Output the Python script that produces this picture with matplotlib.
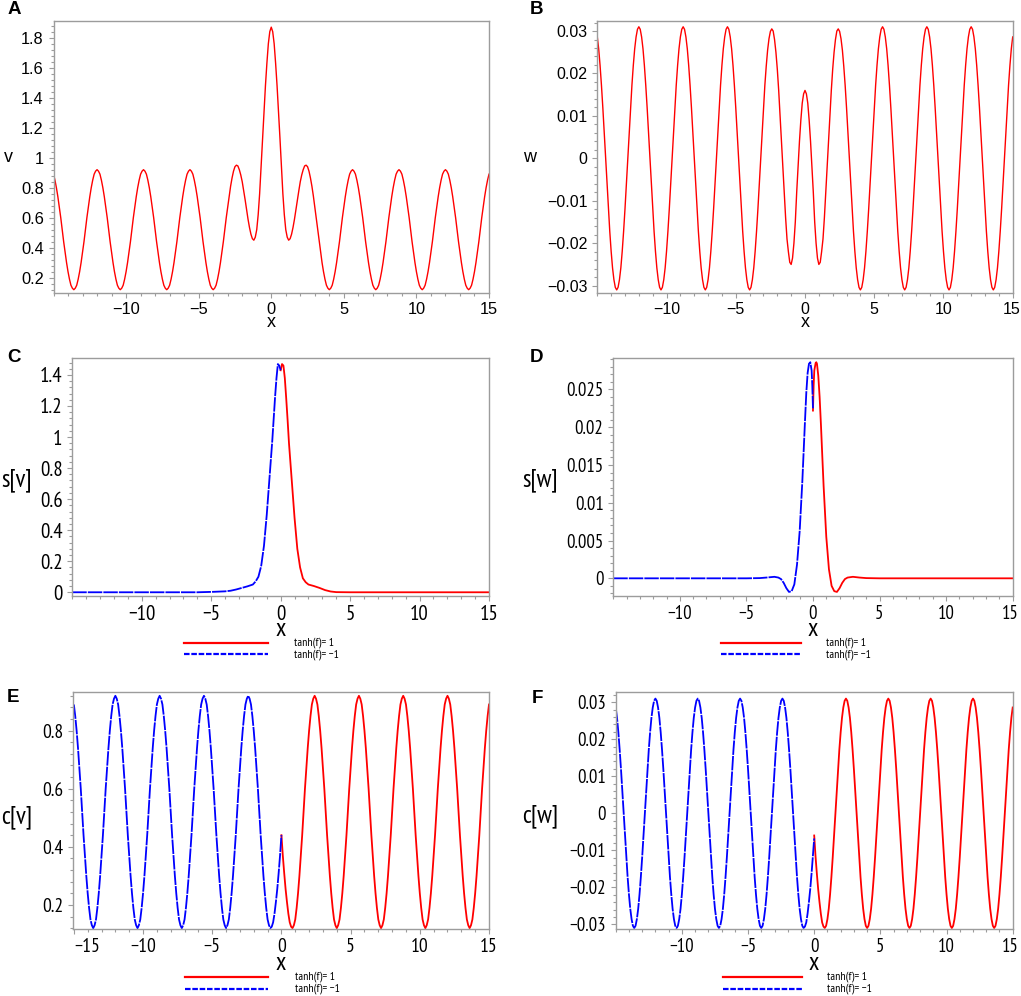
import numpy as np
import matplotlib
matplotlib.use("Agg")
import matplotlib.pyplot as plt
from matplotlib.ticker import MultipleLocator, FixedLocator, FuncFormatter
from matplotlib.lines import Line2D
from matplotlib.transforms import ScaledTranslation
from matplotlib import font_manager as fm

# ---------------- data ----------------
# sample positions (step 0.1) for the oscillating panels A, B, E, F
x_grid = np.round(np.linspace(-15.0, 15.0, 301), 1)

# A: v(x), x = -15.0 ... 15.0
v_A = [0.89, 0.85, 0.80, 0.74, 0.67, 0.60, 0.52, 0.44, 0.37, 0.30, 0.24, 0.19, 0.15, 0.13, 0.12,
       0.13, 0.15, 0.19, 0.24, 0.30, 0.37, 0.44, 0.52, 0.60, 0.67, 0.74, 0.80, 0.85, 0.89, 0.91, 0.92,
       0.91, 0.89, 0.85, 0.80, 0.74, 0.67, 0.60, 0.52, 0.44, 0.37, 0.30, 0.24, 0.19, 0.15, 0.13, 0.12,
       0.13, 0.15, 0.19, 0.24, 0.30, 0.37, 0.44, 0.52, 0.60, 0.67, 0.74, 0.80, 0.85, 0.89, 0.91, 0.92,
       0.91, 0.89, 0.85, 0.80, 0.74, 0.67, 0.60, 0.52, 0.44, 0.37, 0.30, 0.24, 0.19, 0.15, 0.13, 0.12,
       0.13, 0.15, 0.19, 0.24, 0.30, 0.37, 0.44, 0.52, 0.60, 0.67, 0.74, 0.80, 0.85, 0.89, 0.91, 0.92,
       0.91, 0.89, 0.85, 0.80, 0.74, 0.67, 0.60, 0.52, 0.44, 0.37, 0.30, 0.24, 0.19, 0.15, 0.13, 0.12,
       0.13, 0.15, 0.19, 0.24, 0.30, 0.37, 0.44, 0.52, 0.60, 0.67, 0.745, 0.81, 0.865, 0.91, 0.94, 0.95,
       0.945, 0.92, 0.885, 0.84, 0.78, 0.72, 0.655, 0.59, 0.535, 0.49, 0.46, 0.45,
       0.47, 0.52, 0.62, 0.76, 0.94, 1.13, 1.31, 1.48, 1.63, 1.76, 1.84, 1.87,
       1.84, 1.76, 1.63, 1.48, 1.31, 1.13, 0.94, 0.76, 0.62, 0.52, 0.47, 0.45,
       0.46, 0.49, 0.535, 0.59, 0.655, 0.72, 0.78, 0.84, 0.885, 0.92, 0.945, 0.95,
       0.94, 0.91, 0.865, 0.81, 0.745, 0.67, 0.60, 0.52, 0.44, 0.37, 0.30, 0.24, 0.19, 0.15, 0.13, 0.12,
       0.13, 0.15, 0.19, 0.24, 0.30, 0.37, 0.44, 0.52, 0.60, 0.67, 0.74, 0.80, 0.85, 0.89, 0.91, 0.92,
       0.91, 0.89, 0.85, 0.80, 0.74, 0.67, 0.60, 0.52, 0.44, 0.37, 0.30, 0.24, 0.19, 0.15, 0.13, 0.12,
       0.13, 0.15, 0.19, 0.24, 0.30, 0.37, 0.44, 0.52, 0.60, 0.67, 0.74, 0.80, 0.85, 0.89, 0.91, 0.92,
       0.91, 0.89, 0.85, 0.80, 0.74, 0.67, 0.60, 0.52, 0.44, 0.37, 0.30, 0.24, 0.19, 0.15, 0.13, 0.12,
       0.13, 0.15, 0.19, 0.24, 0.30, 0.37, 0.44, 0.52, 0.60, 0.67, 0.74, 0.80, 0.85, 0.89, 0.91, 0.92,
       0.91, 0.89, 0.85, 0.80, 0.74, 0.67, 0.60, 0.52, 0.44, 0.37, 0.30, 0.24, 0.19, 0.15, 0.13, 0.12,
       0.13, 0.15, 0.19, 0.24, 0.30, 0.37, 0.44, 0.52, 0.60, 0.67, 0.74, 0.80, 0.85, 0.89]

# B: w(x), x = -15.0 ... 15.0
w_B = [0.0286, 0.0258, 0.0219, 0.0172, 0.0119, 0.0060, 0.0, -0.0060, -0.0119, -0.0172, -0.0219, -0.0258, -0.0286, -0.0304, -0.031,
       -0.0304, -0.0286, -0.0258, -0.0219, -0.0172, -0.0119, -0.0060, 0.0, 0.0060, 0.0119, 0.0172, 0.0219, 0.0258, 0.0286, 0.0304, 0.031,
       0.0304, 0.0286, 0.0258, 0.0219, 0.0172, 0.0119, 0.0060, 0.0, -0.0060, -0.0119, -0.0172, -0.0219, -0.0258, -0.0286, -0.0304, -0.031,
       -0.0304, -0.0286, -0.0258, -0.0219, -0.0172, -0.0119, -0.0060, 0.0, 0.0060, 0.0119, 0.0172, 0.0219, 0.0258, 0.0286, 0.0304, 0.031,
       0.0304, 0.0286, 0.0258, 0.0219, 0.0172, 0.0119, 0.0060, 0.0, -0.0060, -0.0119, -0.0172, -0.0219, -0.0258, -0.0286, -0.0304, -0.031,
       -0.0304, -0.0286, -0.0258, -0.0219, -0.0172, -0.0119, -0.0060, 0.0, 0.0060, 0.0119, 0.0172, 0.0219, 0.0258, 0.0286, 0.0304, 0.031,
       0.0304, 0.0286, 0.0258, 0.0219, 0.0172, 0.0119, 0.0060, 0.0, -0.0060, -0.0119, -0.0172, -0.0219, -0.0258, -0.0286, -0.0304, -0.031,
       -0.0304, -0.0286, -0.0258, -0.0219, -0.0172, -0.0119, -0.0060, 0.0, 0.0060, 0.0119, 0.0172, 0.0217, 0.0255, 0.0282, 0.0299, 0.0305,
       0.0300, 0.028, 0.025, 0.021, 0.016, 0.010, 0.004, -0.002, -0.008, -0.014, -0.019, -0.022,
       -0.0245, -0.025, -0.0235, -0.020, -0.015, -0.008, -0.002, 0.004, 0.009, 0.013, 0.0152, 0.016,
       0.0152, 0.013, 0.009, 0.004, -0.002, -0.008, -0.015, -0.020, -0.0235, -0.025, -0.0245, -0.022,
       -0.019, -0.014, -0.008, -0.002, 0.004, 0.010, 0.016, 0.021, 0.025, 0.028, 0.0300, 0.0305,
       0.0299, 0.0282, 0.0255, 0.0217, 0.0172, 0.0119, 0.0060, 0.0, -0.0060, -0.0119, -0.0172, -0.0219, -0.0258, -0.0286, -0.0304, -0.031,
       -0.0304, -0.0286, -0.0258, -0.0219, -0.0172, -0.0119, -0.0060, 0.0, 0.0060, 0.0119, 0.0172, 0.0219, 0.0258, 0.0286, 0.0304, 0.031,
       0.0304, 0.0286, 0.0258, 0.0219, 0.0172, 0.0119, 0.0060, 0.0, -0.0060, -0.0119, -0.0172, -0.0219, -0.0258, -0.0286, -0.0304, -0.031,
       -0.0304, -0.0286, -0.0258, -0.0219, -0.0172, -0.0119, -0.0060, 0.0, 0.0060, 0.0119, 0.0172, 0.0219, 0.0258, 0.0286, 0.0304, 0.031,
       0.0304, 0.0286, 0.0258, 0.0219, 0.0172, 0.0119, 0.0060, 0.0, -0.0060, -0.0119, -0.0172, -0.0219, -0.0258, -0.0286, -0.0304, -0.031,
       -0.0304, -0.0286, -0.0258, -0.0219, -0.0172, -0.0119, -0.0060, 0.0, 0.0060, 0.0119, 0.0172, 0.0219, 0.0258, 0.0286, 0.0304, 0.031,
       0.0304, 0.0286, 0.0258, 0.0219, 0.0172, 0.0119, 0.0060, 0.0, -0.0060, -0.0119, -0.0172, -0.0219, -0.0258, -0.0286, -0.0304, -0.031,
       -0.0304, -0.0286, -0.0258, -0.0219, -0.0172, -0.0119, -0.0060, 0.0, 0.0060, 0.0119, 0.0172, 0.0219, 0.0258, 0.0286]

# C: s[v]
xC_blue = [-15.0, -10.0, -6.0, -4.8, -4.0, -3.6, -3.2, -2.8, -2.4, -2.0, -1.8, -1.6, -1.4, -1.2,
           -1.0, -0.8, -0.6, -0.5, -0.4, -0.3, -0.2, -0.1, 0.0]
sC_blue = [0.0, 0.0, 0.0, 0.003, 0.006, 0.010, 0.018, 0.028, 0.038, 0.05, 0.07, 0.10, 0.17, 0.30,
           0.50, 0.74, 0.98, 1.12, 1.26, 1.38, 1.47, 1.46, 1.43]
xC_red = [0.0, 0.1, 0.2, 0.3, 0.4, 0.5, 0.6, 0.8, 1.0, 1.2, 1.4, 1.6, 1.8, 2.0, 2.4, 2.8,
          3.2, 3.6, 4.0, 5.0, 10.0, 15.0]
sC_red = [1.43, 1.47, 1.46, 1.38, 1.25, 1.11, 0.96, 0.72, 0.48, 0.28, 0.16, 0.09, 0.065, 0.05, 0.04, 0.028,
          0.014, 0.005, 0.001, 0.0, 0.0, 0.0]

# D: s[w]
xD_blue = [-15.0, -8.0, -5.0, -4.0, -3.5, -2.9, -2.6, -2.4, -2.2, -2.0, -1.8, -1.6, -1.4, -1.2,
           -1.0, -0.8, -0.7, -0.6, -0.5, -0.4, -0.3, -0.2, -0.1, -0.05, 0.0]
sD_blue = [0.0, 0.0, 0.0, 0.00003, 0.0001, 0.0002, 0.0001, -0.0001, -0.0006, -0.0013, -0.0018, -0.0017,
           -0.0008, 0.0018, 0.0062, 0.0128, 0.0168, 0.0208, 0.0246, 0.0272, 0.0284, 0.0286, 0.0275, 0.0255, 0.0225]
xD_red = [0.0, 0.05, 0.1, 0.2, 0.25, 0.3, 0.4, 0.5, 0.6, 0.7, 0.8, 1.0, 1.2, 1.4, 1.6, 1.8, 2.0,
          2.2, 2.4, 2.6, 3.0, 3.5, 4.0, 5.0, 8.0, 15.0]
sD_red = [0.0222, 0.0255, 0.0275, 0.0285, 0.0286, 0.0284, 0.0268, 0.0240, 0.0203, 0.0162, 0.0122, 0.0055,
          0.0012, -0.0010, -0.0017, -0.0018, -0.0013, -0.0006, -0.0001, 0.0001, 0.0002, 0.0001, 0.00003,
          0.0, 0.0, 0.0]

# E: c[v]; blue on x = -15.0 ... 0.0, red on x = 0.0 ... 15.0
cE_blue = [0.89, 0.85, 0.80, 0.74, 0.67, 0.60, 0.52, 0.44, 0.37, 0.30, 0.24, 0.19, 0.15, 0.13, 0.12,
           0.13, 0.15, 0.19, 0.24, 0.30, 0.37, 0.44, 0.52, 0.60, 0.67, 0.74, 0.80, 0.85, 0.89, 0.91, 0.92,
           0.91, 0.89, 0.85, 0.80, 0.74, 0.67, 0.60, 0.52, 0.44, 0.37, 0.30, 0.24, 0.19, 0.15, 0.13, 0.12,
           0.13, 0.15, 0.19, 0.24, 0.30, 0.37, 0.44, 0.52, 0.60, 0.67, 0.74, 0.80, 0.85, 0.89, 0.91, 0.92,
           0.91, 0.89, 0.85, 0.80, 0.74, 0.67, 0.60, 0.52, 0.44, 0.37, 0.30, 0.24, 0.19, 0.15, 0.13, 0.12,
           0.13, 0.15, 0.19, 0.24, 0.30, 0.37, 0.44, 0.52, 0.60, 0.67, 0.74, 0.80, 0.85, 0.89, 0.91, 0.92,
           0.91, 0.89, 0.85, 0.80, 0.74, 0.67, 0.60, 0.52, 0.44, 0.37, 0.30, 0.24, 0.19, 0.15, 0.13, 0.12,
           0.13, 0.15, 0.19, 0.24, 0.30, 0.37, 0.44, 0.52, 0.60, 0.67, 0.74, 0.80, 0.85, 0.89, 0.91, 0.92,
           0.91, 0.89, 0.85, 0.80, 0.74, 0.67, 0.60, 0.52, 0.44, 0.37, 0.30, 0.24, 0.19, 0.15, 0.13, 0.12,
           0.125, 0.14, 0.17, 0.21, 0.255, 0.31, 0.37, 0.44]
cE_red = [0.44, 0.37, 0.31, 0.255, 0.21, 0.17, 0.14, 0.125, 0.12,
          0.13, 0.15, 0.19, 0.24, 0.30, 0.37, 0.44, 0.52, 0.60, 0.67, 0.74, 0.80, 0.85, 0.89, 0.91, 0.92,
          0.91, 0.89, 0.85, 0.80, 0.74, 0.67, 0.60, 0.52, 0.44, 0.37, 0.30, 0.24, 0.19, 0.15, 0.13, 0.12,
          0.13, 0.15, 0.19, 0.24, 0.30, 0.37, 0.44, 0.52, 0.60, 0.67, 0.74, 0.80, 0.85, 0.89, 0.91, 0.92,
          0.91, 0.89, 0.85, 0.80, 0.74, 0.67, 0.60, 0.52, 0.44, 0.37, 0.30, 0.24, 0.19, 0.15, 0.13, 0.12,
          0.13, 0.15, 0.19, 0.24, 0.30, 0.37, 0.44, 0.52, 0.60, 0.67, 0.74, 0.80, 0.85, 0.89, 0.91, 0.92,
          0.91, 0.89, 0.85, 0.80, 0.74, 0.67, 0.60, 0.52, 0.44, 0.37, 0.30, 0.24, 0.19, 0.15, 0.13, 0.12,
          0.13, 0.15, 0.19, 0.24, 0.30, 0.37, 0.44, 0.52, 0.60, 0.67, 0.74, 0.80, 0.85, 0.89, 0.91, 0.92,
          0.91, 0.89, 0.85, 0.80, 0.74, 0.67, 0.60, 0.52, 0.44, 0.37, 0.30, 0.24, 0.19, 0.15, 0.13, 0.12,
          0.13, 0.15, 0.19, 0.24, 0.30, 0.37, 0.44, 0.52, 0.60, 0.67, 0.74, 0.80, 0.85, 0.89]

# F: c[w]; blue on x = -15.0 ... 0.0, red on x = 0.0 ... 15.0
cF_blue = [0.0286, 0.0258, 0.0219, 0.0172, 0.0119, 0.0060, 0.0, -0.0060, -0.0119, -0.0172, -0.0219, -0.0258, -0.0286, -0.0304, -0.031,
           -0.0304, -0.0286, -0.0258, -0.0219, -0.0172, -0.0119, -0.0060, 0.0, 0.0060, 0.0119, 0.0172, 0.0219, 0.0258, 0.0286, 0.0304, 0.031,
           0.0304, 0.0286, 0.0258, 0.0219, 0.0172, 0.0119, 0.0060, 0.0, -0.0060, -0.0119, -0.0172, -0.0219, -0.0258, -0.0286, -0.0304, -0.031,
           -0.0304, -0.0286, -0.0258, -0.0219, -0.0172, -0.0119, -0.0060, 0.0, 0.0060, 0.0119, 0.0172, 0.0219, 0.0258, 0.0286, 0.0304, 0.031,
           0.0304, 0.0286, 0.0258, 0.0219, 0.0172, 0.0119, 0.0060, 0.0, -0.0060, -0.0119, -0.0172, -0.0219, -0.0258, -0.0286, -0.0304, -0.031,
           -0.0304, -0.0286, -0.0258, -0.0219, -0.0172, -0.0119, -0.0060, 0.0, 0.0060, 0.0119, 0.0172, 0.0219, 0.0258, 0.0286, 0.0304, 0.031,
           0.0304, 0.0286, 0.0258, 0.0219, 0.0172, 0.0119, 0.0060, 0.0, -0.0060, -0.0119, -0.0172, -0.0219, -0.0258, -0.0286, -0.0304, -0.031,
           -0.0304, -0.0286, -0.0258, -0.0219, -0.0172, -0.0119, -0.0060, 0.0, 0.0060, 0.0119, 0.0172, 0.0219, 0.0258, 0.0286, 0.0304, 0.031,
           0.0304, 0.0286, 0.0258, 0.0219, 0.0172, 0.0119, 0.0060, 0.0, -0.0060, -0.0119, -0.0172, -0.0219, -0.0258, -0.0286, -0.0304, -0.031,
           -0.0306, -0.0295, -0.0271, -0.0240, -0.0205, -0.0163, -0.0116, -0.0068]
cF_red = [-0.0060, -0.0116, -0.0163, -0.0205, -0.0240, -0.0271, -0.0295, -0.0306, -0.031,
          -0.0304, -0.0286, -0.0258, -0.0219, -0.0172, -0.0119, -0.0060, 0.0, 0.0060, 0.0119, 0.0172, 0.0219, 0.0258, 0.0286, 0.0304, 0.031,
          0.0304, 0.0286, 0.0258, 0.0219, 0.0172, 0.0119, 0.0060, 0.0, -0.0060, -0.0119, -0.0172, -0.0219, -0.0258, -0.0286, -0.0304, -0.031,
          -0.0304, -0.0286, -0.0258, -0.0219, -0.0172, -0.0119, -0.0060, 0.0, 0.0060, 0.0119, 0.0172, 0.0219, 0.0258, 0.0286, 0.0304, 0.031,
          0.0304, 0.0286, 0.0258, 0.0219, 0.0172, 0.0119, 0.0060, 0.0, -0.0060, -0.0119, -0.0172, -0.0219, -0.0258, -0.0286, -0.0304, -0.031,
          -0.0304, -0.0286, -0.0258, -0.0219, -0.0172, -0.0119, -0.0060, 0.0, 0.0060, 0.0119, 0.0172, 0.0219, 0.0258, 0.0286, 0.0304, 0.031,
          0.0304, 0.0286, 0.0258, 0.0219, 0.0172, 0.0119, 0.0060, 0.0, -0.0060, -0.0119, -0.0172, -0.0219, -0.0258, -0.0286, -0.0304, -0.031,
          -0.0304, -0.0286, -0.0258, -0.0219, -0.0172, -0.0119, -0.0060, 0.0, 0.0060, 0.0119, 0.0172, 0.0219, 0.0258, 0.0286, 0.0304, 0.031,
          0.0304, 0.0286, 0.0258, 0.0219, 0.0172, 0.0119, 0.0060, 0.0, -0.0060, -0.0119, -0.0172, -0.0219, -0.0258, -0.0286, -0.0304, -0.031,
          -0.0304, -0.0286, -0.0258, -0.0219, -0.0172, -0.0119, -0.0060, 0.0, 0.0060, 0.0119, 0.0172, 0.0219, 0.0258, 0.0286]

legend_labels = ["tanh(f)= 1", "tanh(f)= \u22121"]
panel_letters = ["A", "B", "C", "D", "E", "F"]

# ---------------- fonts ----------------
_avail = {f.name for f in fm.fontManager.ttflist}
_narrow = [n for n in ["Liberation Sans Narrow", "Arial Narrow", "Nimbus Sans Narrow",
                       "PT Sans Narrow", "Archivo Narrow", "Roboto Condensed"] if n in _avail]
REG = ["Liberation Sans", "DejaVu Sans"]
NAR = _narrow[:1] + ["Liberation Sans", "DejaVu Sans"]

# ---------------- figure ----------------
W, H = 1021, 996
fig = plt.figure(figsize=(W / 100, H / 100), dpi=100)

RED = "#ff0000"
BLUE = "#0000ff"
GRAY = "#9c9c9c"
DASH = (0, (8, 0.6))


def fmt(v, pos=None):
    s = f"{v:.4g}"
    if s in ("-0", "-0.0"):
        s = "0"
    return s.replace("-", "\u2212")


def px_axes(l, t, r, b):
    return fig.add_axes([l / W, 1 - b / H, (r - l) / W, (b - t) / H])


def ftext(x, y, s, **kw):
    fig.text(x / W, 1 - y / H, s, ha="center", va="center", **kw)


def style(ax, xlim, ylim, xt, yt, yminor, fs, fam, xpad=3.0, ypad=3.5):
    ax.set_xlim(*xlim)
    ax.set_ylim(*ylim)
    for sp in ax.spines.values():
        sp.set_color(GRAY)
        sp.set_linewidth(1.0)
    ax.xaxis.set_major_locator(FixedLocator(xt))
    ax.yaxis.set_major_locator(FixedLocator(yt))
    ax.xaxis.set_minor_locator(MultipleLocator(1))
    ax.yaxis.set_minor_locator(MultipleLocator(yminor))
    ax.xaxis.set_major_formatter(FuncFormatter(fmt))
    ax.yaxis.set_major_formatter(FuncFormatter(fmt))
    ax.tick_params(which="both", direction="out", color=GRAY, width=0.8,
                   top=False, right=False)
    ax.tick_params(which="major", length=3.5)
    ax.tick_params(axis="x", which="major", pad=xpad)
    ax.tick_params(axis="y", which="major", pad=ypad)
    ax.tick_params(which="minor", length=2)
    for lab in ax.get_xticklabels() + ax.get_yticklabels():
        lab.set_fontsize(fs)
        lab.set_family(fam)


def shift_last_xlabel(ax, dx_px):
    lab = ax.get_xticklabels()[-1]
    lab.set_transform(lab.get_transform() + ScaledTranslation(dx_px / 100, 0, fig.dpi_scale_trans))


def legend_block(x0, x1, xt, y1, y2):
    fig.add_artist(Line2D([x0 / W, x1 / W], [1 - y1 / H, 1 - y1 / H], color=RED, lw=1.6))
    fig.add_artist(Line2D([x0 / W, x1 / W], [1 - y2 / H, 1 - y2 / H], color=BLUE, lw=1.6,
                          linestyle=(0, (2.5, 0.8))))
    fig.text(xt / W, 1 - y1 / H, legend_labels[0], ha="left", va="center", fontsize=8.5, family=NAR)
    fig.text(xt / W, 1 - y2 / H, legend_labels[1], ha="left", va="center", fontsize=8.5, family=NAR)


xt_std = [-10, -5, 0, 5, 10, 15]

# ---- A ----
axA = px_axes(53.5, 20.7, 489, 293.3)
axA.plot(x_grid, v_A, color=RED, lw=1.0)
style(axA, (-15, 15), (0.096, 1.913), xt_std, [0.2, 0.4, 0.6, 0.8, 1, 1.2, 1.4, 1.6, 1.8],
      0.04, 11.8, REG, xpad=2.5)
ftext(8, 158, "v", fontsize=13, family=REG)
ftext(271, 322, "x", fontsize=13, family=REG)

# ---- B ----
axB = px_axes(597.3, 20.7, 1012.7, 293.3)
axB.plot(x_grid, w_B, color=RED, lw=1.0)
style(axB, (-15, 15), (-0.0318, 0.03243), xt_std,
      [-0.03, -0.02, -0.01, 0, 0.01, 0.02, 0.03], 0.002, 11.5, REG, xpad=2.5)
shift_last_xlabel(axB, -1)
ftext(530, 158, "w", fontsize=13, family=REG)
ftext(805, 322, "x", fontsize=13, family=REG)

# ---- C ----
axC = px_axes(72.3, 357.7, 489, 596)
axC.plot(xC_red, sC_red, color=RED, lw=1.3)
axC.plot(xC_blue, sC_blue, color=BLUE, lw=1.3, linestyle=DASH)
style(axC, (-15, 15), (-0.024, 1.511), xt_std, [0, 0.2, 0.4, 0.6, 0.8, 1, 1.2, 1.4],
      0.04, 15, NAR)
ftext(17, 480, "s[v]", fontsize=18, family=NAR)
ftext(281, 629, "x", fontsize=18, family=NAR)
legend_block(184, 268, 294, 642.7, 654.3)

# ---- D ----
axD = px_axes(613.3, 357.7, 1013.3, 596)
axD.plot(xD_red, sD_red, color=RED, lw=1.3)
axD.plot(xD_blue, sD_blue, color=BLUE, lw=1.3, linestyle=DASH)
style(axD, (-15, 15.05), (-0.00234, 0.0292), xt_std,
      [0, 0.005, 0.01, 0.015, 0.02, 0.025], 0.001, 13.5, NAR)
shift_last_xlabel(axD, -2)
ftext(540, 480, "s[w]", fontsize=18, family=NAR)
ftext(812.7, 629, "x", fontsize=18, family=NAR)
legend_block(720.7, 801, 826, 642.7, 654.3)

# ---- E ----
axE = px_axes(73.3, 692.3, 489, 929.3)
axE.plot(x_grid[150:], cE_red, color=RED, lw=1.3)
axE.plot(x_grid[:151], cE_blue, color=BLUE, lw=1.3, linestyle=DASH)
style(axE, (-15.04, 15), (0.116, 0.932), [-15, -10, -5, 0, 5, 10, 15],
      [0.2, 0.4, 0.6, 0.8], 0.04, 14, NAR)
axE.get_xticklabels()[0].set_horizontalalignment("left")
ftext(17, 817, "c[v]", fontsize=18, family=NAR)
ftext(281, 963, "x", fontsize=18, family=NAR)
legend_block(185, 268.3, 295, 976.7, 989)

# ---- F ----
axF = px_axes(615.7, 692.3, 1012.7, 929.3)
axF.plot(x_grid[150:], cF_red, color=RED, lw=1.3)
axF.plot(x_grid[:151], cF_blue, color=BLUE, lw=1.3, linestyle=DASH)
style(axF, (-15, 15), (-0.03135, 0.0327), xt_std,
      [-0.03, -0.02, -0.01, 0, 0.01, 0.02, 0.03], 0.002, 13.5, NAR)
shift_last_xlabel(axF, -2)
ftext(540, 816, "c[w]", fontsize=18, family=NAR)
ftext(814, 963, "x", fontsize=18, family=NAR)
legend_block(722.7, 801.7, 826.7, 976.7, 989)

# panel letters
for (lx, ly), letter in zip([(14, 10), (536, 9), (14, 357), (536, 357), (13, 697), (537, 698)],
                            panel_letters):
    ftext(lx, ly, letter, fontsize=13.5, fontweight="bold", family=REG)

fig.savefig("out.png", dpi=100)
